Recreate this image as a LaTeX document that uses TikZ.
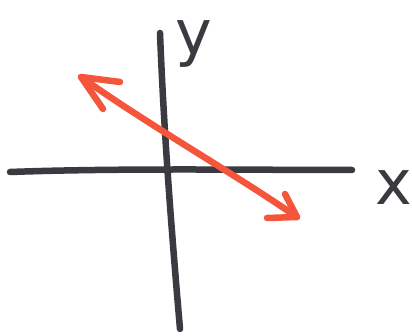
\documentclass[tikz,border=0pt]{standalone}
\usepackage{fontspec}
\setmainfont{DejaVu Sans}
\definecolor{axisgray}{HTML}{3A3A40}
\definecolor{vecred}{HTML}{F5553A}
\begin{document}
\begin{tikzpicture}[x=1pt,y=1pt,
  axisline/.style={draw=axisgray,line width=6.5pt,line cap=round,line join=round},
  vecline/.style={draw=vecred,line width=6.5pt,line cap=round,line join=round},
  lbl/.style={text=axisgray,font=\fontsize{62}{62}\selectfont,inner sep=0pt}]
\useasboundingbox (0,0) rectangle (412,336);
\fill[white] (0,0) rectangle (412,336);
% axis end points
\coordinate (yt) at (160,303);
\coordinate (yb) at (180,7);
\coordinate (xl) at (10,164);
\coordinate (xr) at (352,166);
% vector end points
\coordinate (va) at (81,259);
\coordinate (vb) at (297,119);
\coordinate (va1) at (120,254);
\coordinate (va2) at (103,227);
\coordinate (vb1) at (285,142);
\coordinate (vb2) at (267,118);
% axes
\draw[axisline] (xl) .. controls (120,168) and (250,166) .. (xr);
\draw[axisline] (yt) .. controls (164,200) and (172,100) .. (yb);
% vector
\draw[vecline] (va) .. controls (150,210) and (230,165) .. (vb);
\draw[vecline] (va1) -- (va) -- (va2);
\draw[vecline] (vb1) -- (vb) -- (vb2);
% labels
\node[lbl] (ylab) at (194,292) {y};
\node[lbl] (xlab) at (394,148) {x};
\end{tikzpicture}
\end{document}
